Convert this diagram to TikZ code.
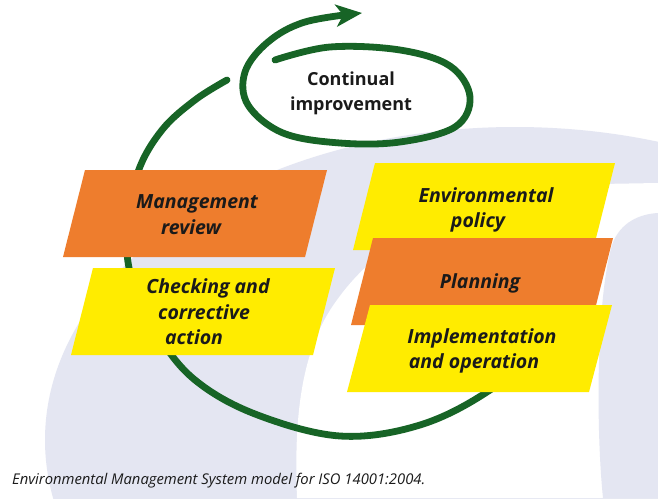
\documentclass[tikz,border=0pt]{standalone}
\usepackage{fontspec}
\setmainfont{Open Sans}
\usetikzlibrary{arrows.meta}
\definecolor{lav}{HTML}{E4E6F2}
\definecolor{ora}{HTML}{EE7D2D}
\definecolor{yel}{HTML}{FFEC00}
\definecolor{grn}{HTML}{176426}
\definecolor{txt}{HTML}{1A1A1A}
\tikzset{
  boxtxt/.style={font=\fontsize{19.5}{22}\selectfont\bfseries\itshape, inner sep=0pt, anchor=base, text=txt},
  titletxt/.style={font=\fontsize{18}{22}\selectfont\bfseries, inner sep=0pt, anchor=base, text=txt},
  captxt/.style={font=\fontsize{14.8}{16}\selectfont\itshape, inner sep=0pt, anchor=base west, text=txt},
  loop/.style={draw=grn, line width=6.8pt, line cap=round},
  orabox/.style={fill=ora},
  yelbox/.style={fill=yel}
}
\begin{document}
\begin{tikzpicture}[x=1pt,y=-1pt]
\useasboundingbox (0,0) rectangle (658,498);
\fill[white] (0,0) rectangle (658,498);
% background
\begin{scope}
\clip (0,0) rectangle (658,498);
\fill[lav] (515,440) ellipse [x radius=470pt, y radius=313pt];
\fill[white] (297,498) .. controls (294,420) and (300,350) .. (337,300)
  .. controls (380,240) and (460,190) .. (600,184) -- (658,183) -- (658,498) -- cycle;
\fill[lav] (603,498) .. controls (596,430) and (596,300) .. (612,245)
  .. controls (620,222) and (640,214) .. (658,213) -- (658,498) -- cycle;
\end{scope}
% big loop
\draw[loop] plot[smooth, tension=0.6] coordinates {(560,200) (572,270) (548,340) (490,390) (420,425) (340,436) (255,414) (195,380) (158,335) (132,280) (127,230) (138,172) (162,130) (195,100) (227,80)};
% boxes
\fill[orabox] (85,170) -- (327,170) -- (305,257) -- (63,257) -- cycle;
\fill[yelbox] (93,268) -- (335,268) -- (313,355) -- (71,355) -- cycle;
\fill[yelbox] (375,163) -- (615,163) -- (593,250) -- (353,250) -- cycle;
\fill[orabox] (373,238) -- (613,238) -- (591,325) -- (351,325) -- cycle;
\fill[yelbox] (370,305) -- (612,305) -- (589,392) -- (347,392) -- cycle;
% continual improvement loop
\draw[loop, -{Stealth[length=26pt, width=22pt, inset=7pt]}] plot[smooth, tension=0.6] coordinates {(275,60) (330,47) (400,50) (450,66) (470,97) (455,127) (400,142) (340,143) (283,133) (248,105) (245,72) (268,42) (305,22) (362,13)};
% texts
\node[titletxt] (ci1) at (351,85) {Continual};
\node[titletxt] (ci2) at (351,110) {improvement};
\node[boxtxt] (mr1) at (197,208) {Management};
\node[boxtxt] (mr2) at (191,234) {review};
\node[boxtxt] (ca1) at (208,293) {Checking and};
\node[boxtxt] (ca2) at (204,319) {corrective};
\node[boxtxt] (ca3) at (194,344) {action};
\node[boxtxt] (ep1) at (486,202) {Environmental};
\node[boxtxt] (ep2) at (478,227) {policy};
\node[boxtxt] (pl1) at (480,288) {Planning};
\node[boxtxt] (io1) at (482,343) {Implementation};
\node[boxtxt] (io2) at (474,368) {and operation};
\node[captxt] (cap) at (12,484) {Environmental Management System model for ISO 14001:2004.};
\end{tikzpicture}
\end{document}
